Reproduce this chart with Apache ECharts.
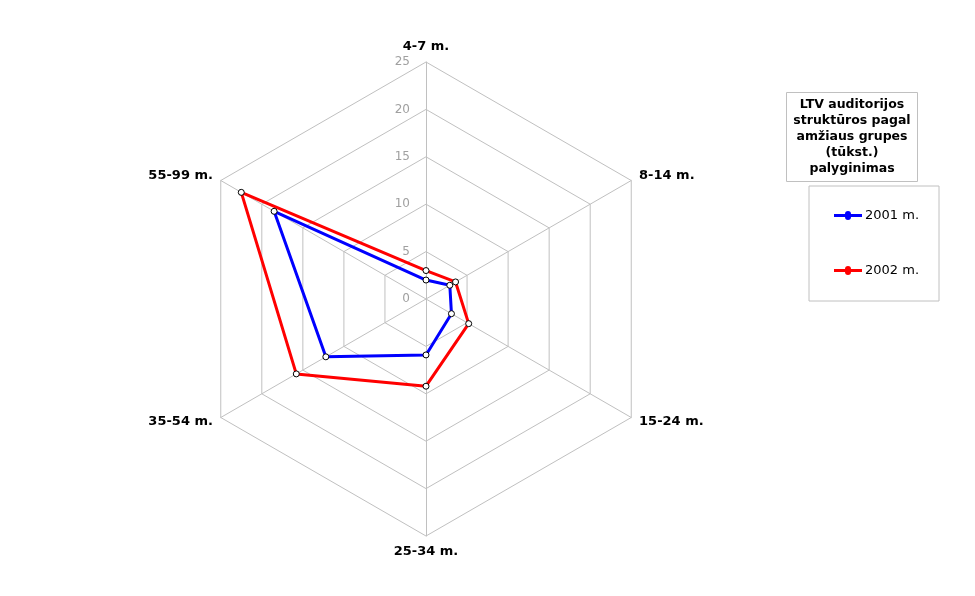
<!DOCTYPE html>
<html>
<head>
<meta charset="utf-8">
<script src="https://cdn.jsdelivr.net/npm/echarts@6/dist/echarts.min.js"></script>
<style>
  html, body { margin: 0; padding: 0; background: #fff; }
  #chart { width: 975px; height: 596px; }
</style>
</head>
<body>
<div id="chart"></div>
<script>
// age groups, clockwise from the top
const categories = ['4-7 m.', '8-14 m.', '15-24 m.', '25-34 m.', '35-54 m.', '55-99 m.']
const seriesNames = ['2001 m.', '2002 m.']
const values2001 = [2.0, 2.9, 3.1, 5.9, 12.2, 18.5]
const values2002 = [3.0, 3.6, 5.2, 9.2, 15.8, 22.5]
const axisMax = 25
const tickStep = 5
const titleLines = ['LTV auditorijos', 'struktūros pagal', 'amžiaus grupes', '(tūkst.)', 'palyginimas']

const colors = ['#0000ff', '#ff0000']
const font = 'DejaVu Sans, Verdana, sans-serif'
const gridColor = '#c0c0c0'

const chart = echarts.init(document.getElementById('chart'))

// echarts radar goes counter-clockwise, so feed the axes in reverse after the first one
const order = [0].concat(categories.map((c, i) => i).slice(1).reverse())
const reorder = arr => order.map(i => arr[i])

const indicator = reorder(categories).map((name, i) => ({
  name: name,
  min: 0,
  max: axisMax,
  axisLabel: { show: i === 0 }
}))

function makeSeries (name, values, color) {
  return {
    name: name,
    type: 'radar',
    symbol: 'circle',
    symbolSize: 6,
    itemStyle: { color: '#fff', borderColor: '#000', borderWidth: 1 },
    lineStyle: { color: color, width: 3 },
    z: 3,
    data: [{ value: reorder(values), name: name }]
  }
}

// legend icon: line with a small marker in the middle
const legendIcon = 'path://M0,3 H11 A3,3 0 0,1 17,3 H28 V6 H17 A3,3 0 0,1 11,6 H0 Z'

chart.setOption({
  backgroundColor: '#fff',
  animation: false,
  textStyle: { fontFamily: font },
  radar: {
    center: [426, 299],
    radius: 237,
    shape: 'polygon',
    splitNumber: axisMax / tickStep,
    startAngle: 90,
    nameGap: 9,
    axisName: {
      color: '#000',
      fontWeight: 'bold',
      fontSize: 13,
      fontFamily: font
    },
    axisLine: { show: true, lineStyle: { color: gridColor, width: 1 } },
    splitLine: { show: true, lineStyle: { color: gridColor, width: 1 } },
    splitArea: { show: false },
    axisTick: { show: false },
    axisLabel: {
      color: '#a0a0a0',
      fontSize: 12,
      fontFamily: font,
      margin: 16
    },
    indicator: indicator
  },
  legend: {
    orient: 'vertical',
    left: 809,
    top: 186,
    width: 134,
    padding: [23, 20, 24, 25],
    itemGap: 42,
    itemWidth: 28,
    itemHeight: 9,
    borderColor: gridColor,
    borderWidth: 1,
    icon: legendIcon,
    textStyle: { fontSize: 13, color: '#000', fontFamily: font, padding: [0, 0, 0, -2] },
    data: seriesNames.map((n, i) => ({
      name: n,
      itemStyle: { color: colors[i], borderWidth: 0 }
    }))
  },
  graphic: [
    {
      type: 'rect',
      shape: { x: 786.5, y: 92.5, width: 131, height: 89 },
      style: { fill: '#fff', stroke: gridColor, lineWidth: 1 }
    },
    {
      type: 'text',
      x: 852,
      y: 97,
      style: {
        text: titleLines.join('\n'),
        fill: '#000',
        font: 'bold 12.5px ' + font,
        lineHeight: 16,
        align: 'center',
        verticalAlign: 'top'
      }
    }
  ],
  series: [
    makeSeries(seriesNames[0], values2001, colors[0]),
    makeSeries(seriesNames[1], values2002, colors[1])
  ]
})
</script>
</body>
</html>
